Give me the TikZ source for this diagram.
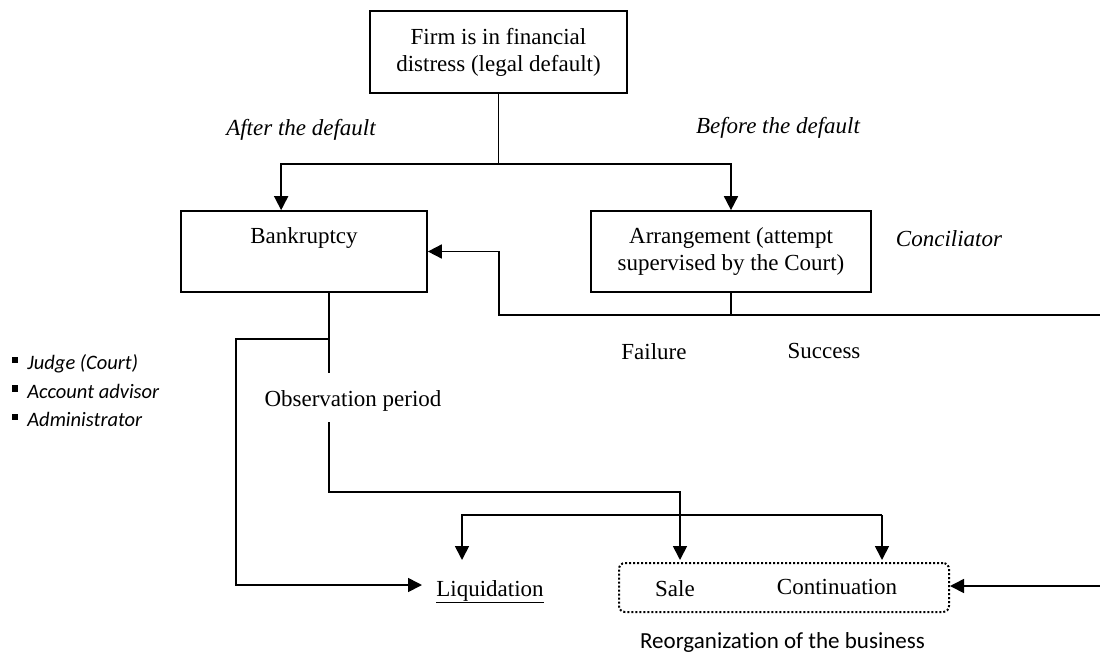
\documentclass[tikz,border=0pt]{standalone}
\usepackage{fontspec}
\setmainfont{Liberation Serif}
\newfontfamily\carlito[Ligatures=NoCommon]{Carlito}
\usetikzlibrary{arrows.meta,calc}
\begin{document}
\begin{tikzpicture}[x=1pt,y=-1pt,
  line width=1.7pt,
  txt/.style={font=\fontsize{23}{27}\selectfont, inner sep=0pt, anchor=base},
  itl/.style={txt, font=\fontsize{23}{27}\selectfont\itshape},
  box/.style={draw, line width=1.7pt, font=\fontsize{23}{27}\selectfont, align=center, inner sep=0pt},
  conn/.style={-{Triangle[length=14pt,width=14pt]}},
  bul/.style={font=\carlito\fontsize{20.5}{24}\selectfont, inner sep=0pt, anchor=base west},
  dotbox/.style={draw, line width=2pt, dash pattern=on 2pt off 2pt, rounded corners=6pt, inner sep=0pt}
]
\useasboundingbox (0,0) rectangle (1100,654);

% boxes
\node[box, minimum width=257pt, minimum height=82pt] (firm) at (498.5,52) {Firm is in financial\\distress (legal default)};
\node[box, minimum width=246pt, minimum height=81pt] (bank) at (304,251.5) {};
\node[txt] (bankt) at (304,243) {Bankruptcy};
\node[box, minimum width=280pt, minimum height=81pt] (arrg) at (731,251.5) {Arrangement (attempt\\supervised by the Court)};
\node[dotbox, minimum width=330pt, minimum height=49pt] (reorg) at (784,587.5) {};

% texts
\node[itl] (after) at (301,135) {After the default};
\node[itl] (before) at (778,133) {Before the default};
\node[itl] (conc) at (949,246) {Conciliator};
\node[txt] (fail) at (654,359) {Failure};
\node[txt] (succ) at (824,358) {Success};
\node[txt] (obs) at (353,406) {Observation period};
\node[txt] (liq) at (490,596) {\underline{Liquidation}};
\node[txt] (sale) at (675,596) {Sale};
\node[txt] (cont) at (837,594) {Continuation};
\node[txt, font=\carlito\fontsize{23}{27}\selectfont] (reorgt) at (782.5,648) {Reorganization of the business};

\node[bul] (b1) at (11,369.5) {\rule[6.5pt]{6.5pt}{6.5pt}\hspace{9pt}\textit{Judge (Court)}};
\node[bul] (b2) at (11,398) {\rule[6.5pt]{6.5pt}{6.5pt}\hspace{9pt}\textit{Account advisor}};
\node[bul] (b3) at (11,426.5) {\rule[6.5pt]{6.5pt}{6.5pt}\hspace{9pt}\textit{Administrator}};

% coordinates
\coordinate (split) at (firm.south |- 0,164);
\coordinate (redge1) at (1100,315);
\coordinate (fb) at (499,315);
\coordinate (bs) at ([xshift=25pt]bank.south);
\coordinate (o1) at (329,373);
\coordinate (o2) at (329,422);
\coordinate (lt) at (236,339);
\coordinate (liqin) at (422,585);
\coordinate (saletop) at (680,560);
\coordinate (bl) at (462,515);
\coordinate (br) at (882,515);
\coordinate (liqtop) at (462,560);
\coordinate (contop) at (882,560);
\coordinate (redge2) at (1100,586);

% connectors
\draw (firm.south) -- (split);
\draw[conn] (split) -| ([xshift=101pt]bank.north west);
\draw[conn] (split) -| (arrg.north);
\draw (arrg.south) -- (arrg.south |- fb);
\draw[conn] (redge1) -- (fb) |- (bank.east);
\draw (bs) -- (o1);
\draw[conn] (bs |- lt) -- (lt) |- (liqin);
\draw[conn] (o2) -- (o2 |- 0,492) -| (saletop);
\draw[conn] (br) -- (bl) -- (liqtop);
\draw[conn] (br) -- (contop);
\draw[conn] (redge2) -- (reorg.east |- redge2);
\end{tikzpicture}
\end{document}
